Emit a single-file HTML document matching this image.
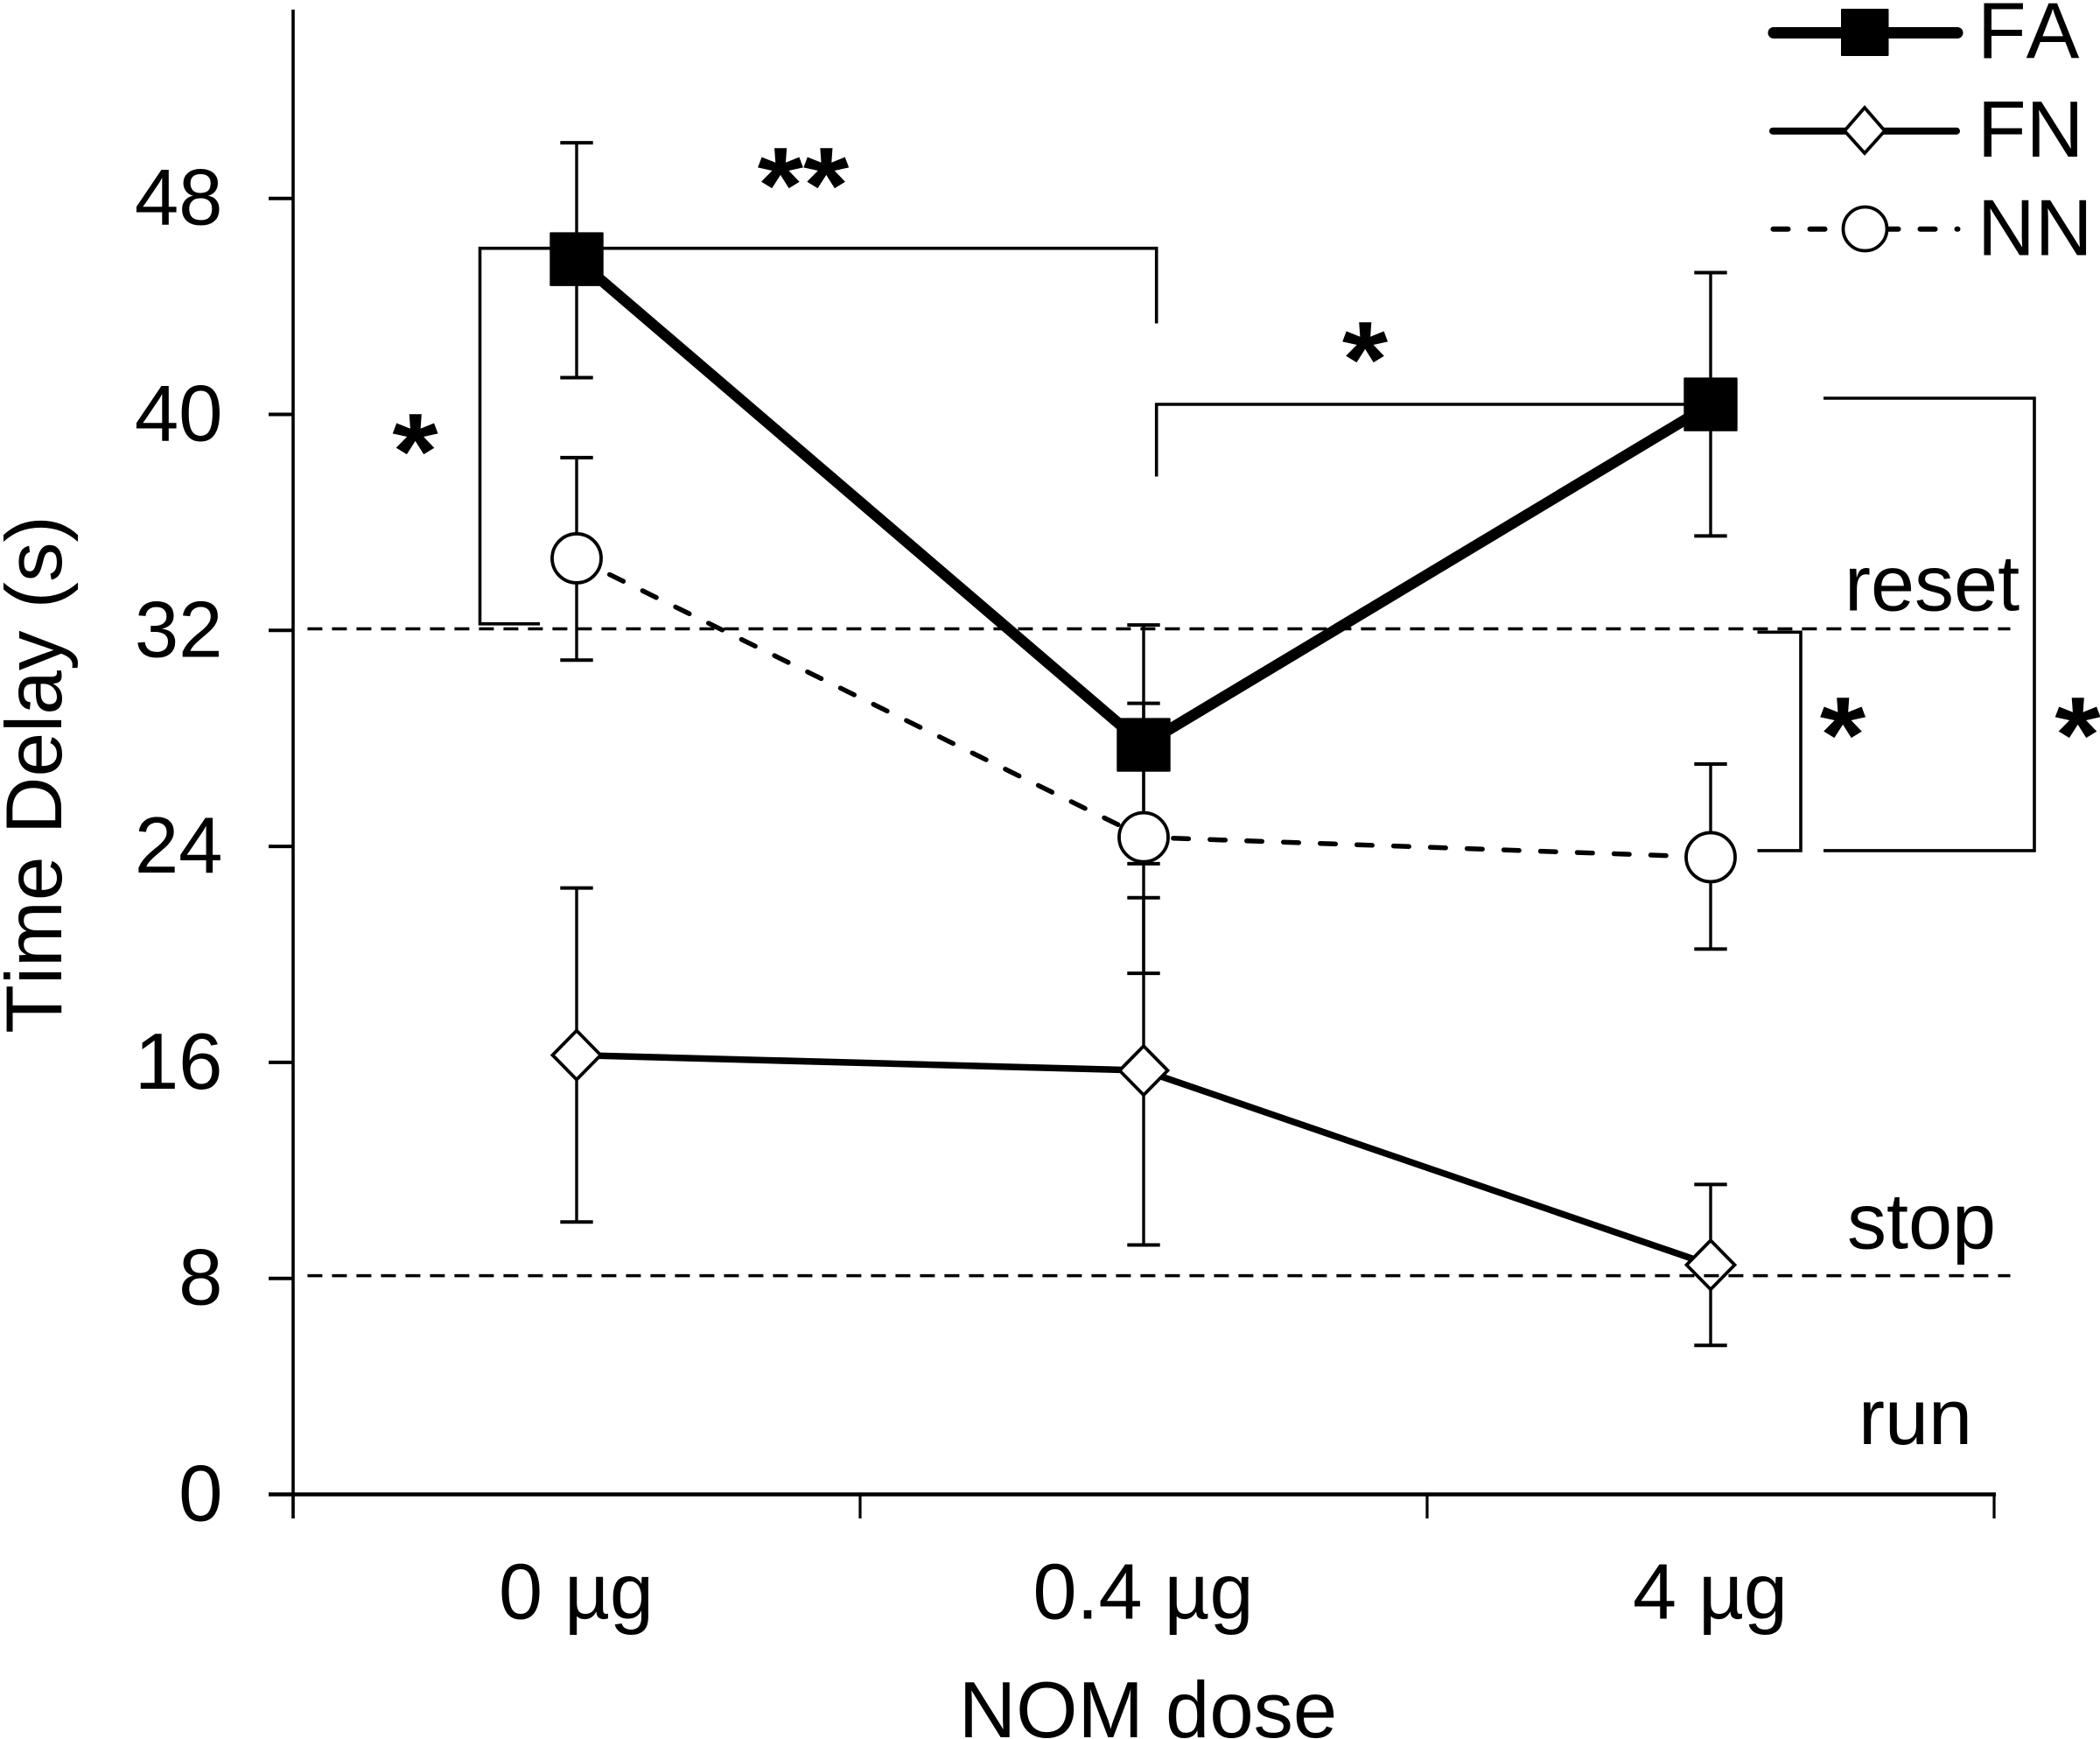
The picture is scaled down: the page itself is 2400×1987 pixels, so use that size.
<!DOCTYPE html>
<html lang="en">
<head>
<meta charset="utf-8">
<title>Time Delay vs NOM dose</title>
<style>
  html, body { margin: 0; padding: 0; background: #fff; }
  svg { display: block; }
  text { font-family: "Liberation Sans", Arial, sans-serif; fill: #000; font-kerning: none; }
  .label { font-size: 90px; }
  .star { font-size: 140px; font-weight: bold; text-anchor: middle; }
</style>
</head>
<body>
<svg id="chart" xmlns="http://www.w3.org/2000/svg" width="2400" height="1987" viewBox="0 0 2400 1987">
  <rect x="0" y="0" width="2400" height="1987" fill="#fff"/>
  <g id="axes"></g>
  <g id="brackets" fill="none" stroke="#000" stroke-width="3.6">
    <path d="M617 712.8H548.5V283.7H630"/>
    <path d="M689 283.7H1321.7V369.5"/>
    <path d="M1321.7 544.5V462H1926"/>
    <path d="M2008.5 722.3H2058V971.9H2008.5"/>
    <path d="M2084 455H2325V971.9H2084"/>
  </g>
  <g id="series"></g>
  <g id="refs"></g>
  <g id="annotations">
    <text class="star" transform="translate(474.5 558) scale(0.96 0.88)">*</text>
    <text class="star" transform="translate(918 254) scale(0.96 0.88)">**</text>
    <text class="star" transform="translate(1560 453) scale(0.96 0.88)">*</text>
    <text class="star" transform="translate(2106 882) scale(0.96 0.88)">*</text>
    <text class="star" transform="translate(2374.5 882) scale(0.96 0.88)">*</text>
    <text class="label" x="2108" y="697.5">reset</text>
    <text class="label" x="2111" y="1426.7">stop</text>
    <text class="label" x="2124" y="1650">run</text>
  </g>
  <text transform="translate(70 885) rotate(-90)" text-anchor="middle" font-size="91">Time Delay (s)</text>
  <text x="1312" y="1985" text-anchor="middle" font-size="90.5">NOM dose</text>
  <g id="legend">
    <g>
      <line x1="2027" y1="37.5" x2="2237" y2="37.5" stroke="#000" stroke-width="13" stroke-linecap="round"/>
      <rect x="2104" y="10" width="54.5" height="54" rx="1" fill="#000"/>
      <text x="2260" y="66.7" font-size="91">FA</text>
    </g>
    <g>
      <line x1="2026" y1="149.7" x2="2236" y2="149.7" stroke="#000" stroke-width="8" stroke-linecap="round"/>
      <polygon points="2131,123 2154,149.5 2131,175 2108,149.5" fill="#fff" stroke="#000" stroke-width="3.8"/>
      <text x="2260" y="179" font-size="91">FN</text>
    </g>
    <g>
      <line x1="2026.5" y1="261.7" x2="2237.5" y2="261.7" stroke="#000" stroke-width="6" stroke-linecap="round" stroke-dasharray="17 25"/>
      <ellipse cx="2131.5" cy="261.5" rx="25" ry="25" fill="#fff" stroke="#000" stroke-width="3.8"/>
      <text x="2260" y="291.7" font-size="91">NN</text>
    </g>
  </g>
</svg>
<script>
const categories = ['0 µg', '0.4 µg', '4 µg'];
const yTickLabels = [0, 8, 16, 24, 32, 40, 48];
const referenceValues = [8.1, 32.06];

const faMean = [45.75, 27.76, 40.37];
const faHigh = [50.06, 32.2, 45.25];
const faLow = [41.36, 23.36, 35.5];

const fnMean = [16.27, 15.7, 8.5];
const fnHigh = [22.46, 22.1, 11.48];
const fnLow = [10.09, 9.24, 5.52];

const nnMean = [34.67, 24.34, 23.6];
const nnHigh = [38.4, 29.3, 27.05];
const nnLow = [30.9, 19.3, 20.2];

const SVG_NS = 'http://www.w3.org/2000/svg';
const AXIS_X = 335;
const AXIS_Y0 = 1707.5;
const UNIT = 30.85;
const BAND = 648;

function yScale(v) { return AXIS_Y0 - v * UNIT; }
function xEdge(i) { return AXIS_X + i * BAND; }
function xScale(i) { return xEdge(i + 0.5); }

function mk(tag, attrs, parent) {
  const el = document.createElementNS(SVG_NS, tag);
  for (const k in attrs) el.setAttribute(k, attrs[k]);
  parent.appendChild(el);
  return el;
}

const axes = document.getElementById('axes');
const series = document.getElementById('series');
const refs = document.getElementById('refs');

const yAxis = mk('line', { x1: AXIS_X, y1: 11, x2: AXIS_X, y2: 1735, stroke: '#000', 'stroke-width': 3.6 }, axes);



const xAxis = mk('line', { x1: 307, y1: AXIS_Y0, x2: xEdge(3) + 2, y2: AXIS_Y0, stroke: '#000', 'stroke-width': 4.5 }, axes);



yTickLabels.forEach(function (v) {
  const tick = mk('line', { x1: 307, y1: yScale(v), x2: AXIS_X, y2: yScale(v), stroke: '#000', 'stroke-width': 4 }, axes);
  
  
  const label = mk('text', { x: 254.5, y: yScale(v) + 30, 'text-anchor': 'end', 'font-size': 90.5 }, axes);
  
  
  label.textContent = String(v);
});

[0, 1, 2, 3].forEach(function (i) {
  const tick = mk('line', { x1: xEdge(i), y1: AXIS_Y0, x2: xEdge(i), y2: 1735, stroke: '#000', 'stroke-width': 3.2 }, axes);
  
  
});

categories.forEach(function (c, i) {
  const label = mk('text', { x: xScale(i) - 0.5, y: 1849.4, 'text-anchor': 'middle', 'font-size': 90 }, axes);
  
  
  label.textContent = c;
});

function drawErrorBars(high, low, name) {
  high.forEach(function (h, i) {
    const x = xScale(i);
    const stem = mk('line', { x1: x, y1: yScale(h), x2: x, y2: yScale(low[i]), stroke: '#000', 'stroke-width': 3.4 }, series);
    
    
    const capTop = mk('line', { x1: x - 18.7, y1: yScale(h), x2: x + 18.7, y2: yScale(h), stroke: '#000', 'stroke-width': 4 }, series);
    
    
    const capLow = mk('line', { x1: x - 18.7, y1: yScale(low[i]), x2: x + 18.7, y2: yScale(low[i]), stroke: '#000', 'stroke-width': 4 }, series);
    
    
  });
}

function linePoints(values) {
  return values.map(function (v, i) { return xScale(i) + ',' + yScale(v); }).join(' ');
}

drawErrorBars(fnHigh, fnLow, 'fn');
drawErrorBars(nnHigh, nnLow, 'nn');
drawErrorBars(faHigh, faLow, 'fa');

const nnLine = mk('polyline', { points: linePoints(nnMean), fill: 'none', stroke: '#000', 'stroke-width': 5.5, 'stroke-linecap': 'round', 'stroke-dasharray': '17.5 24.5' }, series);



const fnLine = mk('polyline', { points: linePoints(fnMean), fill: 'none', stroke: '#000', 'stroke-width': 7.5 }, series);



const faLine = mk('polyline', { points: linePoints(faMean), fill: 'none', stroke: '#000', 'stroke-width': 12.5 }, series);



nnMean.forEach(function (v, i) {
  const p = mk('circle', { cx: xScale(i), cy: yScale(v), r: 28, fill: '#fff', stroke: '#000', 'stroke-width': 3.8 }, series);
  
  
});

fnMean.forEach(function (v, i) {
  const cx = xScale(i);
  const cy = yScale(v);
  const pts = [[cx, cy - 28], [cx + 27.5, cy], [cx, cy + 28], [cx - 27.5, cy]].map(function (p) { return p.join(','); }).join(' ');
  const p = mk('polygon', { points: pts, fill: '#fff', stroke: '#000', 'stroke-width': 3.8 }, series);
  
  
});

faMean.forEach(function (v, i) {
  const p = mk('rect', { x: xScale(i) - 30.7, y: yScale(v) - 30.7, width: 61.4, height: 61.4, rx: 1, fill: '#000' }, series);
  
  
});

referenceValues.forEach(function (v) {
  const ref = mk('line', { x1: 351.4, y1: yScale(v), x2: 2297.5, y2: yScale(v), stroke: '#000', 'stroke-width': 3.5, 'stroke-dasharray': '17 11' }, refs);
  
  
});
</script>
</body>
</html>
